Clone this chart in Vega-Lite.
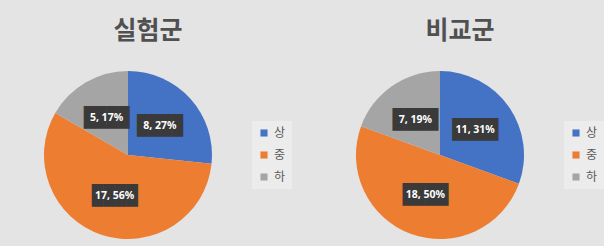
{
  "$schema": "https://vega.github.io/schema/vega-lite/v6.json",
  "background": "#e4e4e4",
  "padding": {"left": 0, "top": 19, "right": 0, "bottom": 0},
  "data": {
    "values": [
      {"group": "실험군", "level": "상", "n": 8, "label": "8, 27%"},
      {"group": "실험군", "level": "중", "n": 17, "label": "17, 56%"},
      {"group": "실험군", "level": "하", "n": 5, "label": "5, 17%"},
      {"group": "비교군", "level": "상", "n": 11, "label": "11, 31%"},
      {"group": "비교군", "level": "중", "n": 18, "label": "18, 50%"},
      {"group": "비교군", "level": "하", "n": 7, "label": "7, 19%"}
    ]
  },
  "spacing": 20,
  "hconcat": [
    {
      "title": {"text": "실험군"},
      "transform": [{"filter": "datum.group === '실험군'"}],
      "width": 256,
      "height": 182,
      "layer": [
        {
          "mark": {"type": "arc", "outerRadius": 84},
          "encoding": {
            "theta": {"field": "n", "type": "quantitative", "stack": true},
            "order": {"field": "level"},
            "color": {"field": "level", "type": "nominal", "scale": {"domain": ["상", "중", "하"], "range": ["#4472C4", "#ED7D31", "#A5A5A5"]}, "legend": {"orient": "none", "legendX": 252, "legendY": 57}}
          }
        },
        {
          "mark": {"type": "text", "radius": 43, "font": "DejaVu Sans Mono", "fontSize": 19, "color": "#3a3a3a", "baseline": "middle", "align": "center"},
          "encoding": {
            "theta": {"field": "n", "type": "quantitative", "stack": true},
            "order": {"field": "level"},
            "text": {"value": "████"}
          }
        },
        {
          "mark": {"type": "text", "radius": 43, "font": "Noto Sans", "fontSize": 10.5, "fontWeight": "bold", "color": "#ffffff", "baseline": "middle", "align": "center"},
          "encoding": {
            "theta": {"field": "n", "type": "quantitative", "stack": true},
            "order": {"field": "level"},
            "text": {"field": "label"}
          }
        }
      ]
    },
    {
      "title": {"text": "비교군"},
      "transform": [{"filter": "datum.group === '비교군'"}],
      "width": 256,
      "height": 182,
      "layer": [
        {
          "mark": {"type": "arc", "outerRadius": 84},
          "encoding": {
            "theta": {"field": "n", "type": "quantitative", "stack": true},
            "order": {"field": "level"},
            "color": {"field": "level", "type": "nominal", "scale": {"domain": ["상", "중", "하"], "range": ["#4472C4", "#ED7D31", "#A5A5A5"]}, "legend": {"orient": "none", "legendX": 252, "legendY": 57}}
          }
        },
        {
          "mark": {"type": "text", "radius": 43, "font": "DejaVu Sans Mono", "fontSize": 19, "color": "#3a3a3a", "baseline": "middle", "align": "center"},
          "encoding": {
            "theta": {"field": "n", "type": "quantitative", "stack": true},
            "order": {"field": "level"},
            "text": {"value": "████"}
          }
        },
        {
          "mark": {"type": "text", "radius": 43, "font": "Noto Sans", "fontSize": 10.5, "fontWeight": "bold", "color": "#ffffff", "baseline": "middle", "align": "center"},
          "encoding": {
            "theta": {"field": "n", "type": "quantitative", "stack": true},
            "order": {"field": "level"},
            "text": {"field": "label"}
          }
        }
      ]
    }
  ],
  "resolve": {"scale": {"color": "independent"}},
  "config": {
    "view": {"stroke": null},
    "title": {"font": "Noto Sans CJK KR", "fontSize": 25, "fontWeight": "bold", "color": "#505050", "anchor": "middle", "dx": 20, "offset": 20},
    "legend": {"title": null, "symbolType": "square", "symbolSize": 50, "labelFont": "Noto Sans CJK KR", "labelFontSize": 12, "labelColor": "#595959", "rowPadding": 10, "symbolStrokeWidth": 0, "padding": 6, "fillColor": "#ececec"}
  }
}
